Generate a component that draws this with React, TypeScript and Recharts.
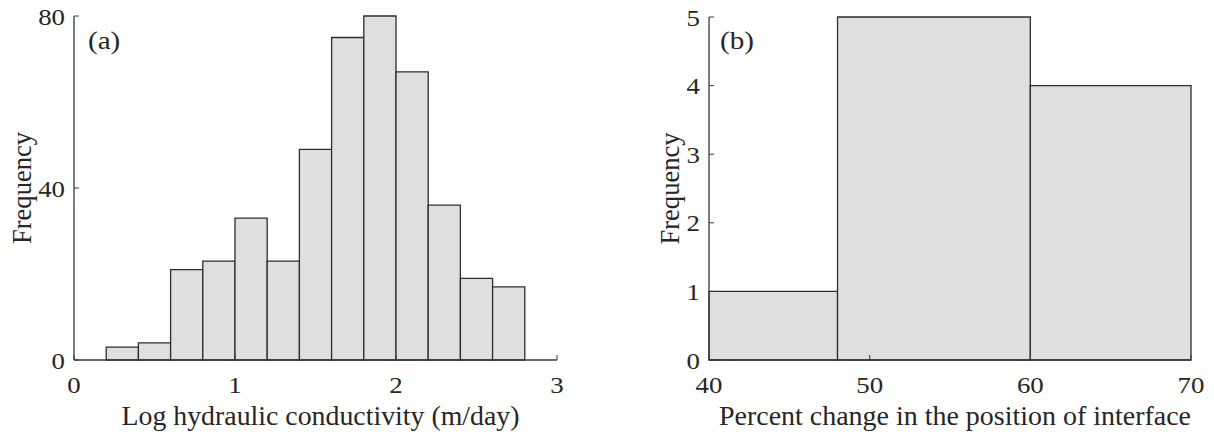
import { ComposedChart, ReferenceArea, XAxis, YAxis } from 'recharts'

// panel (a): log hydraulic conductivity histogram
const binLoA = [0.2, 0.4, 0.6, 0.8, 1.0, 1.2, 1.4, 1.6, 1.8, 2.0, 2.2, 2.4, 2.6]
const binHiA = [0.4, 0.6, 0.8, 1.0, 1.2, 1.4, 1.6, 1.8, 2.0, 2.2, 2.4, 2.6, 2.8]
const countsA = [3, 4, 21, 23, 33, 23, 49, 75, 80, 67, 36, 19, 17]
const xTicksA = [0, 1, 2, 3]
const yTicksA = [0, 40, 80]

// panel (b): percent change in the interface position
const binLoB = [40, 48, 60]
const binHiB = [48, 60, 70]
const countsB = [1, 5, 4]
const xTicksB = [40, 50, 60, 70]
const yTicksB = [0, 1, 2, 3, 4, 5]

const FONT = 'Liberation Serif'
const INK = '#262626'
const FRAME = '#3a3a3a'
const BAR_FILL = '#dfdfdf'
const BAR_STROKE = '#2e2e2e'
// the source figure is stretched sideways, so the glyphs are too
const STRETCH = 1.12

// tick label drawn a bit wider than the font to match the figure
function Tick(props: any) {
  const { x, y, payload, textAnchor, vertical } = props
  const dy = vertical ? '0.36em' : '0.71em'
  return (
    <text
      transform={`translate(${x} ${y}) scale(${STRETCH} 1)`}
      textAnchor={textAnchor}
      dy={dy}
      fontFamily={FONT}
      fontSize={24}
      fill={INK}
    >
      {payload.value}
    </text>
  )
}

interface PanelProps {
  lo: number[]
  hi: number[]
  counts: number[]
  xTicks: number[]
  yTicks: number[]
  width: number
  left: number
  margin: { top: number; right: number }
  yAxisWidth: number
  yLabelX: number
  xLabel: string
  xLabelLen: number
  xLabelShift: number
  tag: string
  tagX: number
}

function Panel(p: PanelProps) {
  const data = p.counts.map((c, i) => ({ lo: p.lo[i], hi: p.hi[i], mid: (p.lo[i] + p.hi[i]) / 2, count: c }))
  const xDomain: [number, number] = [p.xTicks[0], p.xTicks[p.xTicks.length - 1]]
  const yDomain: [number, number] = [p.yTicks[0], p.yTicks[p.yTicks.length - 1]]

  return (
    <div style={{ position: 'absolute', left: p.left, top: 0, width: p.width, height: 437 }}>
      <ComposedChart
        width={p.width}
        height={437}
        data={data}
        margin={{ top: p.margin.top, right: p.margin.right, bottom: 0, left: 0 }}
      >
        <XAxis
          xAxisId='b'
          dataKey='mid'
          type='number'
          domain={xDomain}
          ticks={p.xTicks}
          interval={0}
          height={77}
          tickSize={-5}
          tickMargin={21}
          tick={<Tick />}
          tickLine={{ stroke: FRAME }}
          axisLine={{ stroke: FRAME, strokeWidth: 1.3 }}
          allowDataOverflow
          label={{
            content: ({ viewBox }: any) => (
              <text
                x={viewBox.x + viewBox.width / 2 + p.xLabelShift}
                y={425}
                textAnchor='middle'
                textLength={p.xLabelLen}
                lengthAdjust='spacingAndGlyphs'
                fontFamily={FONT}
                fontSize={27}
                fill={INK}
              >
                {p.xLabel}
              </text>
            ),
          }}
        />
        <XAxis
          xAxisId='t'
          orientation='top'
          type='number'
          domain={xDomain}
          ticks={p.xTicks}
          interval={0}
          height={0}
          tickSize={-5}
          tickFormatter={() => ''}
          tickLine={{ stroke: FRAME }}
          axisLine={{ stroke: FRAME, strokeWidth: 1.3 }}
          allowDataOverflow
        />
        <YAxis
          yAxisId='l'
          type='number'
          domain={yDomain}
          ticks={p.yTicks}
          interval={0}
          width={p.yAxisWidth}
          tickSize={-5}
          tickMargin={14}
          tick={<Tick vertical />}
          tickLine={{ stroke: FRAME }}
          axisLine={{ stroke: FRAME, strokeWidth: 1.3 }}
          allowDataOverflow
          label={{
            content: ({ viewBox }: any) => {
              const cy = viewBox.y + viewBox.height / 2
              const cx = p.yLabelX
              return (
                <text
                  x={cx}
                  y={cy}
                  transform={`rotate(-90 ${cx} ${cy})`}
                  textAnchor='middle'
                  dominantBaseline='central'
                  textLength={112}
                  lengthAdjust='spacingAndGlyphs'
                  fontFamily={FONT}
                  fontSize={27}
                  fill={INK}
                >
                  Frequency
                </text>
              )
            },
          }}
        />
        <YAxis
          yAxisId='r'
          orientation='right'
          type='number'
          domain={yDomain}
          ticks={p.yTicks}
          interval={0}
          width={0}
          tickSize={-5}
          tickFormatter={() => ''}
          tickLine={{ stroke: FRAME }}
          axisLine={{ stroke: FRAME, strokeWidth: 1.3 }}
          allowDataOverflow
        />
        {data.map((d) => (
          <ReferenceArea
            key={d.lo}
            xAxisId='b'
            yAxisId='l'
            x1={d.lo}
            x2={d.hi}
            y1={0}
            y2={d.count}
            fill={BAR_FILL}
            fillOpacity={1}
            stroke={BAR_STROKE}
            strokeWidth={1.3}
            ifOverflow='visible'
          />
        ))}
      </ComposedChart>
      <span
        style={{
          position: 'absolute',
          left: p.tagX,
          top: 26,
          fontFamily: FONT,
          fontSize: 26,
          color: INK,
          lineHeight: '30px',
          transform: `scaleX(${STRETCH})`,
          transformOrigin: 'left center',
        }}
      >
        {p.tag}
      </span>
    </div>
  )
}

export default function App() {
  return (
    <div style={{ position: 'absolute', left: 0, top: 0, width: 1214, height: 437, background: '#fff' }}>
      <Panel
        lo={binLoA}
        hi={binHiA}
        counts={countsA}
        xTicks={xTicksA}
        yTicks={yTicksA}
        width={600}
        left={0}
        margin={{ top: 16, right: 43 }}
        yAxisWidth={74}
        yLabelX={22}
        xLabel='Log hydraulic conductivity (m/day)'
        xLabelLen={398}
        xLabelShift={5}
        tag='(a)'
        tagX={88}
      />
      <Panel
        lo={binLoB}
        hi={binHiB}
        counts={countsB}
        xTicks={xTicksB}
        yTicks={yTicksB}
        width={614}
        left={600}
        margin={{ top: 17, right: 23 }}
        yAxisWidth={109}
        yLabelX={70}
        xLabel='Percent change in the position of interface'
        xLabelLen={472}
        xLabelShift={5}
        tag='(b)'
        tagX={120}
      />
    </div>
  )
}
